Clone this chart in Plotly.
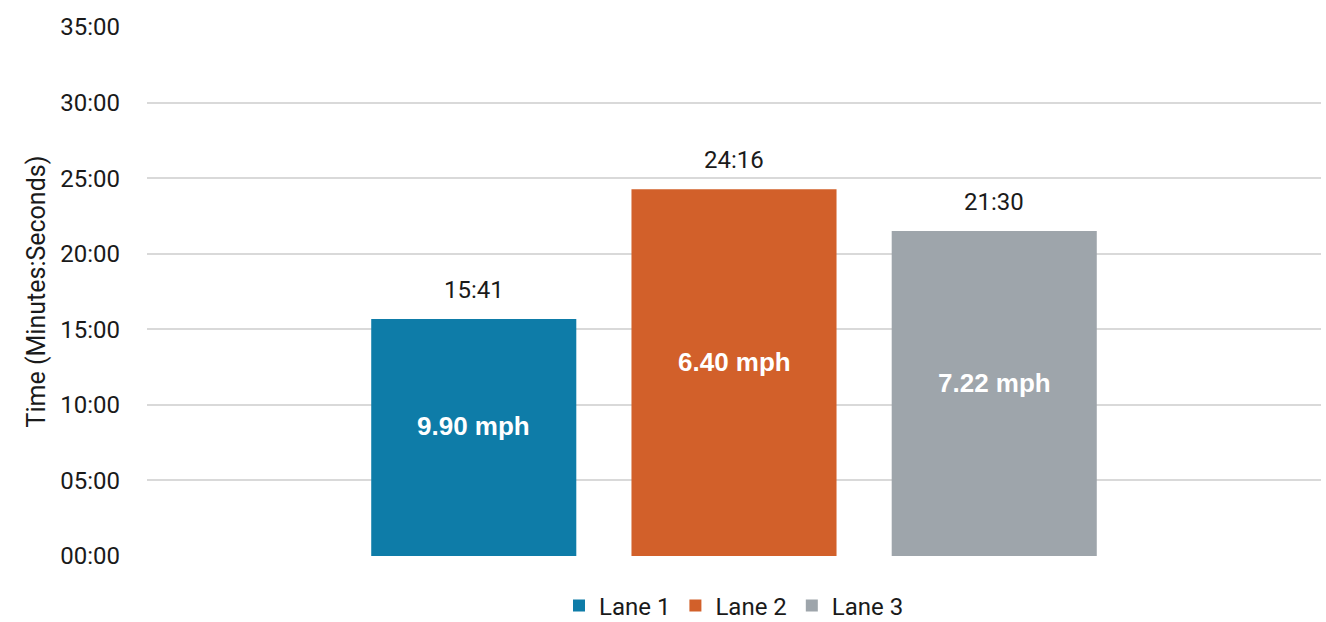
import plotly.graph_objects as go

# Lane results
lanes = ["Lane 1", "Lane 2", "Lane 3"]
times_label = ["15:41", "24:16", "21:30"]
times_min = [15 + 41 / 60, 24 + 16 / 60, 21 + 30 / 60]
speeds = ["9.90 mph", "6.40 mph", "7.22 mph"]
colors = ["#0E7CA8", "#D2602A", "#9EA5AB"]

# Axis ticks (minutes)
tick_vals = [0, 5, 10, 15, 20, 25, 30, 35]
tick_text = ["00:00", "05:00", "10:00", "15:00", "20:00", "25:00", "30:00", "35:00"]

FONT = "Roboto"
BOLD_FONT = "Liberation Sans"
TEXT = "#1a1a1a"
BARGAP = 0.335
GROUPGAP = 0.212

fig = go.Figure()
for lane, t, c in zip(lanes, times_min, colors):
    fig.add_trace(go.Bar(
        x=["Run"], y=[t], name=lane, marker=dict(color=c, line=dict(width=0)),
        hoverinfo="name+y",
    ))

# Bar centres in paper coordinates (single category spanning the full width)
slot = (1 - BARGAP) / len(lanes)
centres = [0.5 + (i - (len(lanes) - 1) / 2) * slot for i in range(len(lanes))]

for cx, t, lbl, s in zip(centres, times_min, times_label, speeds):
    # elapsed time above the bar
    fig.add_annotation(
        x=cx, xref="paper", xanchor="center", y=t, yref="y", yanchor="bottom",
        text=lbl, showarrow=False, yshift=13,
        font=dict(family=FONT, size=24, color=TEXT),
    )
    # average speed inside the bar
    fig.add_annotation(
        x=cx, xref="paper", xanchor="center", y=t / 2, yref="y", yanchor="middle",
        text=f"<b>{s}</b>", showarrow=False, yshift=11,
        font=dict(family=BOLD_FONT, size=26, color="white"),
    )

fig.update_layout(
    width=1326, height=622,
    margin=dict(l=147, r=5, t=27, b=66, autoexpand=False),
    paper_bgcolor="white", plot_bgcolor="white",
    barmode="group", bargap=BARGAP, bargroupgap=GROUPGAP,
    showlegend=True,
    legend=dict(orientation="h", x=0.5, xanchor="center", y=-0.052, yanchor="top",
                font=dict(family=FONT, size=24, color=TEXT), itemwidth=30,
                traceorder="normal"),
    font=dict(family=FONT, size=22, color=TEXT),
)
fig.update_xaxes(showticklabels=False, showgrid=False, zeroline=False, showline=False,
                 type="category", range=[-0.5, 0.5])
fig.update_yaxes(range=[0, 35], tickvals=tick_vals, ticktext=tick_text,
                 showgrid=True, gridcolor="#D9D9D9", gridwidth=2,
                 zeroline=False, showline=False, ticks="", ticklabelstandoff=26,
                 tickfont=dict(family=FONT, size=24, color=TEXT),
                 title=dict(text="Time (Minutes:Seconds)", standoff=7,
                            font=dict(family=FONT, size=25, color=TEXT)))

fig.write_html("out.html")
